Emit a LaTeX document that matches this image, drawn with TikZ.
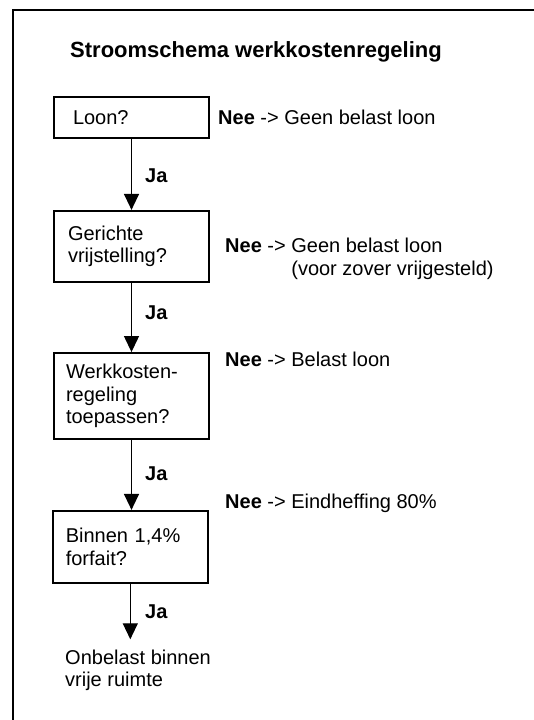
\documentclass[tikz,border=0pt]{standalone}
\usepackage{fontspec}
\setmainfont{Liberation Sans}
\usetikzlibrary{arrows.meta}
\begin{document}
\begin{tikzpicture}[x=1pt,y=-1pt,
  every node/.style={font=\fontsize{20}{22.7}\selectfont},
  box/.style={draw,line width=1.6pt,minimum width=155pt,align=left,inner ysep=0pt,inner xsep=13pt,text width=129pt},
  arr/.style={line width=1.3pt,-{Triangle[width=15pt,length=16pt]}},
  nee/.style={anchor=base west,inner sep=0pt},
  ja/.style={anchor=west,inner sep=0pt,font=\fontsize{20}{22.7}\selectfont\bfseries}]
\useasboundingbox (0,0) rectangle (534,720);
\draw[line width=1.6pt] (13,720) -- (13,10) -- (534,10);
\node[anchor=base west,inner sep=0pt,font=\fontsize{22}{26}\selectfont\bfseries] (title) at (70,57) {Stroomschema werkkostenregeling};
% boxes
\node[box,minimum height=41pt,inner xsep=19pt,text width=117pt] (b1) at (131.5,117.5) {Loon?};
\node[box,minimum height=71pt,inner xsep=14pt,text width=127pt] (b2) at (131.5,246.2) {Gerichte\\vrijstelling?};
\node[box,minimum height=86.3pt,inner xsep=12pt,text width=131pt] (b3) at (131.5,396) {Werkkosten-\\regeling\\toepassen?};
\node[box,minimum height=72pt,inner xsep=13pt,text width=129pt] (b4) at (130.3,546.7) {Binnen 1,4\%\\forfait?};
\node[anchor=north west,inner sep=0pt,align=left] (endtxt) at (65,649.3) {Onbelast binnen\\vrije ruimte};
% arrows
\draw[arr] (b1.south) -- (b2.north);
\draw[arr] (b2.south) -- (b3.north);
\draw[arr] (b3.south) -- (b3.south |- b4.north);
\draw[arr] (b4.south) -- ([yshift=10pt]b4.south |- endtxt.north);
% Ja labels
\node[ja] (ja1) at (145,176) {Ja};
\node[ja] (ja2) at (145,313) {Ja};
\node[ja] (ja3) at (145,474) {Ja};
\node[ja] (ja4) at (145,611.7) {Ja};
% Nee labels
\node[nee] (n1) at (218,124) {\textbf{Nee} -> Geen belast loon};
\node[nee] (n2) at (225,252.7) {\textbf{Nee} -> Geen belast loon};
\node[nee] (n2b) at (225,275.4) {\phantom{\textbf{Nee} -> }(voor zover vrijgesteld)};
\node[nee] (n3) at (225,366.5) {\textbf{Nee} -> Belast loon};
\node[nee] (n4) at (225,508) {\textbf{Nee} -> Eindheffing 80\%};
\end{tikzpicture}
\end{document}
